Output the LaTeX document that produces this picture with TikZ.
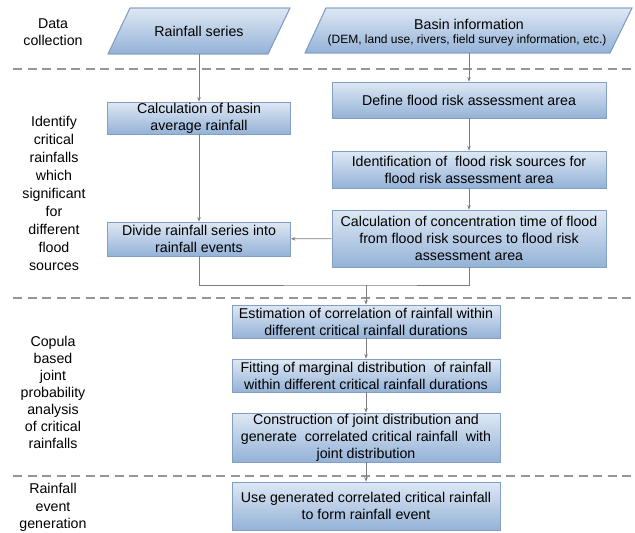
\documentclass[tikz,border=0pt]{standalone}
\usepackage{fontspec}
\setmainfont{Liberation Sans}
\usetikzlibrary{arrows.meta}
\definecolor{boxtop}{RGB}{222,232,244}
\definecolor{boxbot}{RGB}{148,178,215}
\definecolor{boxline}{RGB}{130,158,196}
\definecolor{linecol}{RGB}{125,125,125}
\definecolor{dashcol}{RGB}{150,150,150}
\tikzset{
  box/.style={draw=boxline, line width=0.8pt, top color=boxtop, bottom color=boxbot,
    rectangle, align=center, inner sep=0pt, font=\fontsize{14.2}{17}\selectfont},
  para/.style={draw=boxline, line width=0.8pt, top color=boxtop, bottom color=boxbot},
  ptext/.style={rectangle, align=center, inner sep=0pt},
  arr/.style={draw=linecol, line width=0.8pt, -{Stealth[length=4.5pt,width=3.5pt]}},
  conn/.style={draw=linecol, line width=0.8pt},
  sep/.style={draw=dashcol, line width=1.3pt, dash pattern=on 9pt off 5.5pt},
  lbl/.style={align=center, inner sep=0pt, font=\fontsize{14.2}{17.4}\selectfont}
}
\begin{document}
\begin{tikzpicture}[x=1pt,y=-1pt]
\useasboundingbox (0,0) rectangle (635,533);

% separators
\coordinate (s1a) at (13,69);  \coordinate (s1b) at (635,69);
\coordinate (s2a) at (13,298); \coordinate (s2b) at (635,298);
\coordinate (s3a) at (13,476); \coordinate (s3b) at (635,476);
\draw[sep] (s1a) -- (s1b);
\draw[sep] (s2a) -- (s2b);
\draw[sep] (s3a) -- (s3b);

% parallelograms
\shade[para] (130,8) -- (290,8) -- (268,54) -- (108,54) -- cycle;
\draw[draw=boxline, line width=0.8pt] (130,8) -- (290,8) -- (268,54) -- (108,54) -- cycle;
\node[ptext, minimum width=160pt, minimum height=46pt, font=\fontsize{14.2}{17}\selectfont] (rs) at (199,31) {Rainfall series};

\shade[para] (326,8) -- (632,8) -- (610,53) -- (305,53) -- cycle;
\draw[draw=boxline, line width=0.8pt] (326,8) -- (632,8) -- (610,53) -- (305,53) -- cycle;
\node[ptext, minimum width=280pt, minimum height=45pt] (bi) at (469,30.5) {};
\node[ptext, font=\fontsize{14.2}{17}\selectfont] (bit) at (469,24) {Basin information};
\node[ptext, font=\fontsize{12}{14}\selectfont] (bis) at (467,40.5) {(DEM, land use, rivers, field survey information, etc.)};

% boxes
\node[box, minimum width=183pt, minimum height=32pt] (cb) at (199,118) {Calculation of basin\\average rainfall};
\node[box, minimum width=274pt, minimum height=36pt] (df) at (469,100) {Define flood risk assessment area};
\node[box, minimum width=274pt, minimum height=37pt] (id) at (469,169.5) {Identification of\ \ flood risk sources for\\flood risk assessment area};
\node[box, minimum width=274pt, minimum height=57pt] (cc) at (469,238.5) {Calculation of concentration time of flood\\from flood risk sources to flood risk\\assessment area};
\node[box, minimum width=183pt, minimum height=34pt] (dv) at (199,239) {Divide rainfall series into\\rainfall events};
\node[box, minimum width=268pt, minimum height=33pt] (es) at (366,321.5) {Estimation of correlation of rainfall within\\different critical rainfall durations};
\node[box, minimum width=268pt, minimum height=33pt] (fm) at (366,375.5) {Fitting of marginal distribution\ \ of rainfall\\within different critical rainfall durations};
\node[box, minimum width=268pt, minimum height=49pt] (cj) at (366,437.5) {Construction of joint distribution and\\generate\ \ correlated critical rainfall\ \ with\\joint distribution};
\node[box, minimum width=268pt, minimum height=48pt] (ug) at (366,506) {Use generated correlated critical rainfall\\to form rainfall event};

% left labels
\node[lbl] (l1) at (53,32) {Data\\collection};
\node[lbl, font=\fontsize{14.2}{17.9}\selectfont] (l2) at (54,193.5) {Identify\\critical\\rainfalls\\which\\significant\\for\\different\\flood\\sources};
\node[lbl, font=\fontsize{14.2}{16.9}\selectfont] (l3) at (53,392.5) {Copula\\based\\joint\\probability\\analysis\\of critical\\rainfalls};
\node[lbl] (l4) at (53,507.5) {Rainfall\\event\\generation};

% connectors
\draw[arr] (rs) -- (cb);
\draw[arr] (bi) -- (df);
\draw[arr] (cb) -- (dv);
\draw[arr] (df) -- (id);
\draw[arr] (id) -- (cc);
\draw[arr] (cc) -- (dv);
\coordinate (mrg) at (366,285);
\draw[conn] (dv.south) |- (mrg) -| (cc.south);
\draw[arr] (mrg) -- (es.north);
\draw[arr] (es) -- (fm);
\draw[arr] (fm) -- (cj);
\draw[arr] (cj) -- (ug);
\end{tikzpicture}
\end{document}
